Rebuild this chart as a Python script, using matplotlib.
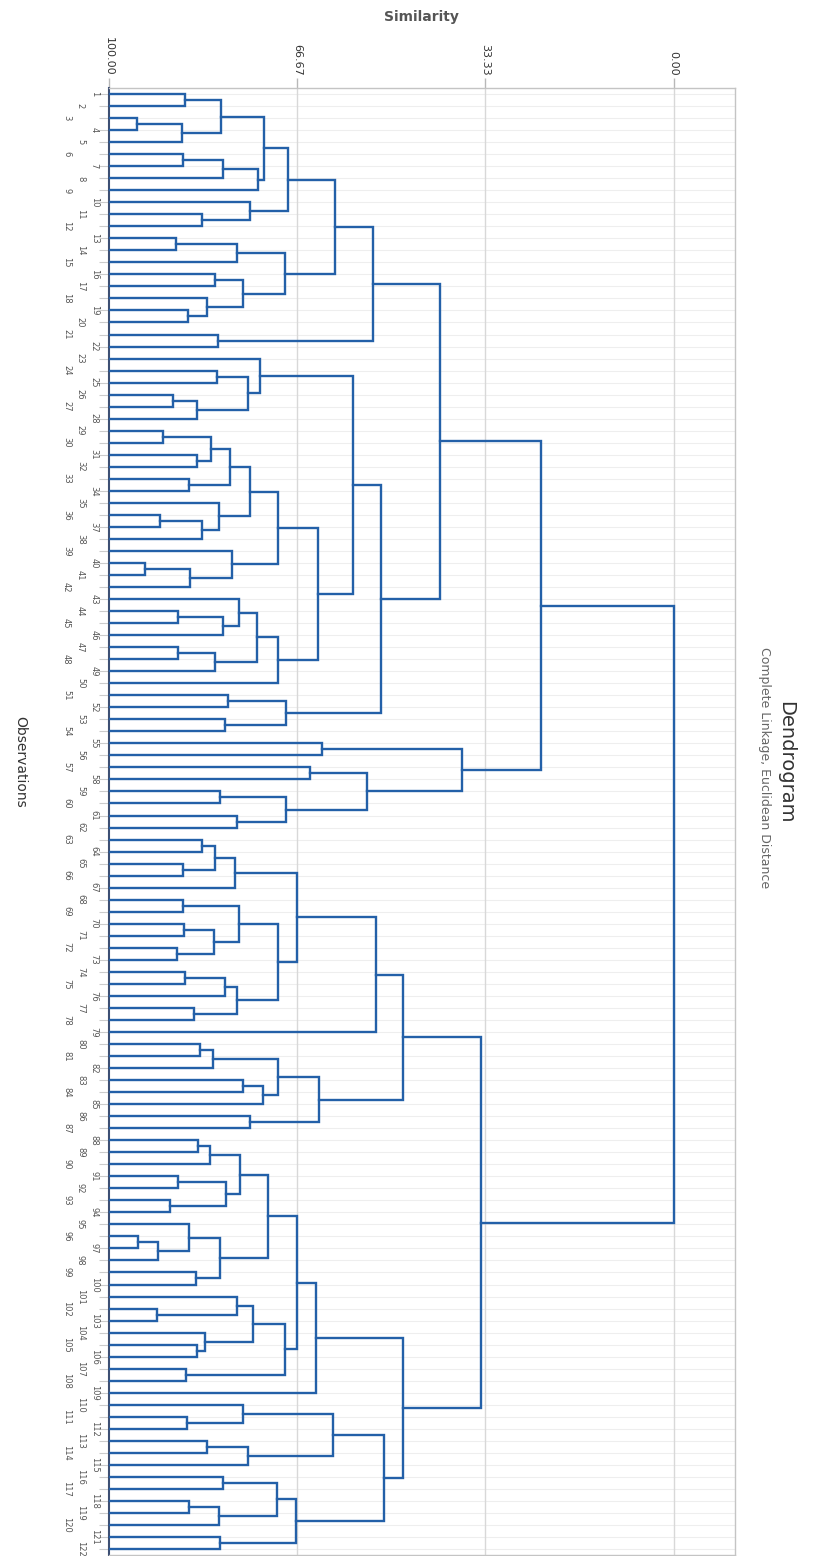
# Dendrogram (complete linkage, euclidean distance) - rotated layout, leaves on the left

import matplotlib.pyplot as plt

# leaf order top to bottom (labels are too small to read, so numbered in order)
leaf_labels = ("1 2 3 4 5 6 7 8 9 10 11 12 13 14 15 16 17 18 19 20 21 22 23 24 25 26 27 28 29 30 "
               "31 32 33 34 35 36 37 38 39 40 41 42 43 44 45 46 47 48 49 50 51 52 53 54 55 56 57 58 59 60 "
               "61 62 63 64 65 66 67 68 69 70 71 72 73 74 75 76 77 78 79 80 81 82 83 84 85 86 87 88 89 90 "
               "91 92 93 94 95 96 97 98 99 100 101 102 103 104 105 106 107 108 109 110 111 112 113 114 115 "
               "116 117 118 119 120 121 122").split()

# merges: (first leaf, last leaf of left group, last leaf, similarity level)
merges = [
    (0, 0, 1, 86.46), (2, 2, 3, 95.01), (2, 3, 4, 87.04), (0, 1, 4, 80.09),
    (5, 5, 6, 86.87), (5, 6, 7, 79.73), (5, 7, 8, 73.54), (0, 4, 8, 72.48),
    (10, 10, 11, 83.40), (9, 9, 11, 74.96), (0, 8, 11, 68.18),
    (12, 12, 13, 88.05), (12, 13, 14, 77.31), (15, 15, 16, 81.15),
    (18, 18, 19, 85.88), (17, 17, 19, 82.62), (15, 16, 19, 76.14),
    (12, 14, 19, 68.76), (0, 11, 19, 59.91), (20, 20, 21, 80.57), (0, 19, 21, 53.27),
    (23, 23, 24, 80.85), (25, 25, 26, 88.53), (25, 26, 27, 84.28), (23, 24, 27, 75.26),
    (22, 22, 27, 73.19),
    (28, 28, 29, 90.30), (30, 30, 31, 84.39), (28, 29, 31, 81.91), (32, 32, 33, 85.75),
    (28, 31, 33, 78.50), (35, 35, 36, 90.88), (35, 36, 37, 83.50), (34, 34, 37, 80.44),
    (28, 33, 37, 74.96), (39, 39, 40, 93.54), (39, 40, 41, 85.58), (38, 38, 41, 78.19),
    (28, 37, 41, 69.95),
    (43, 43, 44, 87.65), (43, 44, 45, 79.79), (42, 42, 45, 76.85), (46, 46, 47, 87.65),
    (46, 47, 48, 81.15), (42, 45, 48, 73.66), (42, 48, 49, 69.95), (28, 41, 49, 62.87),
    (22, 27, 49, 56.67), (50, 50, 51, 78.80), (52, 52, 53, 79.38), (50, 51, 53, 68.58),
    (22, 49, 53, 51.86), (0, 21, 53, 41.33),
    (54, 54, 55, 62.27), (56, 56, 57, 64.34), (58, 58, 59, 80.27), (60, 60, 61, 77.31),
    (58, 59, 61, 68.58), (56, 57, 61, 54.19), (54, 55, 61, 37.38), (0, 53, 61, 23.50),
    (62, 62, 63, 83.50), (64, 64, 65, 86.87), (62, 63, 65, 81.15), (62, 65, 66, 77.61),
    (67, 67, 68, 86.76), (69, 69, 70, 86.64), (71, 71, 72, 87.93), (69, 70, 72, 81.33),
    (67, 68, 72, 76.90), (73, 73, 74, 86.46), (73, 74, 75, 79.38), (76, 76, 77, 84.81),
    (73, 75, 77, 77.31), (67, 72, 77, 69.95), (62, 66, 77, 66.69), (62, 77, 78, 52.65),
    (79, 79, 80, 83.81), (79, 80, 81, 81.56), (82, 82, 83, 76.14), (82, 83, 84, 72.71),
    (79, 81, 84, 69.95), (85, 85, 86, 74.96), (79, 84, 86, 62.69), (62, 78, 86, 47.82),
    (87, 87, 88, 84.21), (87, 88, 89, 82.04), (90, 90, 91, 87.65), (92, 92, 93, 89.12),
    (90, 91, 93, 79.26), (87, 89, 93, 76.73), (95, 95, 96, 94.73), (95, 96, 97, 91.19),
    (94, 94, 97, 85.75), (98, 98, 99, 84.51), (94, 97, 99, 80.27), (87, 93, 99, 71.82),
    (101, 101, 102, 91.47), (100, 100, 102, 77.31), (104, 104, 105, 84.39),
    (103, 103, 105, 82.92), (100, 102, 105, 74.37), (106, 106, 107, 86.34),
    (100, 105, 107, 68.76), (87, 99, 107, 66.58), (87, 107, 108, 63.27),
    (110, 110, 111, 86.16), (109, 109, 111, 76.14), (112, 112, 113, 82.62),
    (112, 113, 114, 75.26), (109, 111, 114, 60.21), (115, 115, 116, 79.79),
    (117, 117, 118, 85.75), (117, 118, 119, 80.44), (115, 116, 119, 70.12),
    (120, 120, 121, 80.27), (115, 119, 121, 66.81), (109, 114, 121, 51.19),
    (87, 108, 121, 47.82), (62, 86, 121, 34.12), (0, 61, 121, 0.00),
]

sim_ticks = [100.0, 66.67, 33.33, 0.0]
sim_tick_labels = ['100.00', '66.67', '33.33', '0.00']

line_col = '#2360a8'

W, H = 821, 1556
fig = plt.figure(figsize=(W / 100, H / 100), dpi=100)
ax = fig.add_axes([108.5 / W, 0.0006, (735 - 108.5) / W, (H - 88) / H - 0.0006])

n = len(leaf_labels)

# faint row lines and vertical grid
for i in range(n):
    ax.axhline(i, color='#eeeeee', lw=0.8, zorder=0)
for t in sim_ticks[1:]:
    ax.axvline(t, color='#d8d8d8', lw=1.0, zorder=0)

# node positions: (row, similarity)
pos = {}
for i in range(n):
    pos[(i, i)] = (i, 100.0)

for a, b, c, s in merges:
    y1, s1 = pos[(a, b)]
    y2, s2 = pos[(b + 1, c)]
    ax.plot([s1, s, s, s2], [y1, y1, y2, y2], color=line_col, lw=1.7,
            solid_joinstyle='miter', zorder=3)
    pos[(a, c)] = ((y1 + y2) / 2, s)

ax.set_xlim(100, -10.88)
ax.set_ylim(n - 0.5, -0.5)

ax.xaxis.tick_top()
ax.set_xticks(sim_ticks)
ax.set_xticklabels(sim_tick_labels, rotation=270)
ax.tick_params(axis='x', length=7, width=1, color='#b8b8b8', labelsize=8,
               labelcolor='#333333', pad=2)

ax.set_yticks(range(n))
ax.set_yticklabels([])
ax.tick_params(axis='y', length=7, width=0.8, color='#cccccc')

# leaf labels, staggered like the original
for i, lab in enumerate(leaf_labels):
    ax.annotate(lab, xy=(0, i), xycoords=('axes fraction', 'data'),
                xytext=(-7 - 10 * (i % 3), 0), textcoords='offset points',
                rotation=270, ha='right', va='center', fontsize=6, color='#555555')

for side in ['top', 'right', 'bottom']:
    ax.spines[side].set_color('#c4c4c4')
    ax.spines[side].set_linewidth(1)
ax.spines['left'].set_color('#3d4f73')
ax.spines['left'].set_linewidth(1.5)

fig.text(421.75 / W, 1 - 17 / H, 'Similarity', ha='center', va='center',
         fontsize=10, fontweight='bold', color='#555555')
fig.text(786 / W, 1 - 762 / H, 'Dendrogram', rotation=270, ha='center', va='center',
         fontsize=14, color='#333333')
fig.text(764 / W, 1 - 768 / H, 'Complete Linkage, Euclidean Distance', rotation=270,
         ha='center', va='center', fontsize=9, color='#666666')
fig.text(20 / W, 1 - 762 / H, 'Observations', rotation=270, ha='center', va='center',
         fontsize=10, color='#333333')

fig.savefig('out.png', dpi=100)
